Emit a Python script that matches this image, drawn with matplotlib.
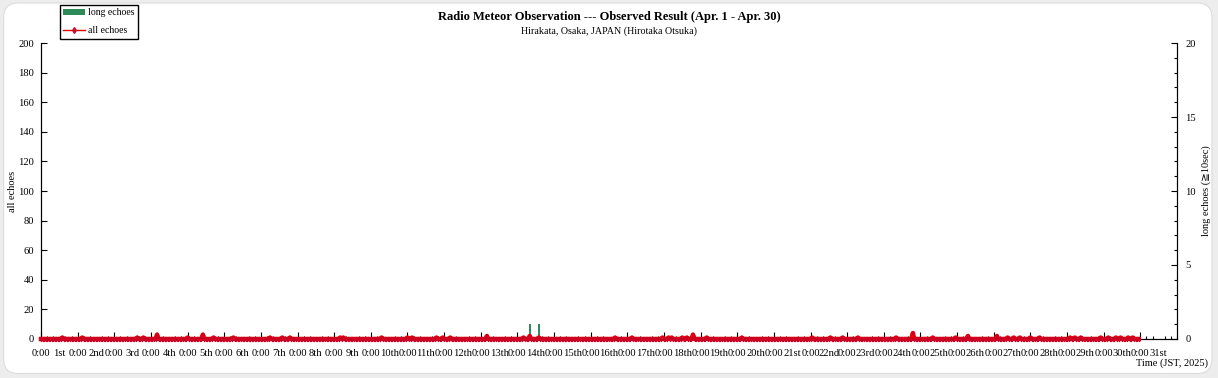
import numpy as np
import matplotlib.pyplot as plt
from matplotlib.patches import FancyBboxPatch
from matplotlib.lines import Line2D
from matplotlib.patches import Patch

plt.rcParams['font.family'] = ['Liberation Serif', 'DejaVu Serif', 'DejaVu Sans']

# hourly counts, Apr 1 0:00 .. Apr 30 23:00 (720 hours); only non-zero hours listed
n_hours = 720
all_hours = [14, 27, 63, 67, 76, 96, 106, 113, 126, 150, 158, 163, 196, 198,
             223, 240, 243, 259, 263, 268, 292, 316, 320, 326, 376, 387, 407,
             411, 413, 420, 423, 427, 436, 459, 505, 517, 525, 535, 560, 571,
             584, 599, 607, 626, 633, 637, 641, 648, 654, 674, 677, 681, 694,
             699, 704, 707, 712, 715]
all_counts = [1, 1, 1, 1, 3, 1, 3, 1, 1, 1, 1, 1, 1, 1,
              1, 1, 1, 1, 1, 1, 2, 1, 2, 1, 1, 1, 1,
              1, 1, 1, 1, 3, 1, 1, 1, 1, 1, 1, 1, 4,
              1, 1, 2, 2, 1, 1, 1, 1, 1, 1, 1, 1, 1,
              1, 1, 1, 1, 1]
long_hours = [320, 326]
long_counts = [1, 1]

days = ['1st', '2nd', '3rd'] + ['%dth' % d for d in range(4, 21)] + \
       ['21st', '22nd', '23rd'] + ['%dth' % d for d in range(24, 31)] + ['31st']

all_echoes = np.zeros(n_hours)
all_echoes[all_hours] = all_counts
hours = np.arange(n_hours)

fig = plt.figure(figsize=(12.18, 3.78), dpi=100, facecolor='#ededed')
card = FancyBboxPatch((0.003, 0.012), 0.992, 0.98, boxstyle='round,pad=0,rounding_size=0.012',
                      transform=fig.transFigure, facecolor='white', edgecolor='#dddddd',
                      lw=0.8, mutation_aspect=3.2, zorder=-10)
fig.patches.append(card)

ax = fig.add_axes([41 / 1218, 1 - 339 / 378, 1136 / 1218, 296 / 378])
ax2 = ax.twinx()

ax2.bar(long_hours, long_counts, width=1.3, color='#2e8b57', zorder=1)
ax.plot(hours, all_echoes, color='#f00000', lw=3.2, marker='d', ms=2.5,
        mfc='#e0001a', mec='#c0002a', mew=0.5, zorder=3, clip_on=False)
ax.set_zorder(ax2.get_zorder() + 1)
ax.patch.set_visible(False)
ax2.patch.set_visible(False)

ax.set_xlim(0, 744)
ax.set_ylim(0, 200)
ax2.set_ylim(0, 20)

# labels alternate: "0:00" at each midnight, day name at noon (no tick line there)
pos = []
labs = []
for i, d in enumerate(days):
    if i * 24 <= 720:
        pos.append(i * 24)
        labs.append('0:00')
    pos.append(i * 24 + 12)
    labs.append(d)
ax.set_xticks(pos)
ax.set_xticklabels(labs)
for t, lab in zip(ax.xaxis.get_major_ticks(), labs):
    if lab != '0:00':
        t.tick1line.set_visible(False)
ax.set_xticks(np.arange(0, 745, 4), minor=True)
ax.set_yticks(np.arange(0, 201, 20))
ax2.set_yticks(np.arange(0, 21, 5))
ax2.set_yticks(np.arange(0, 21, 1), minor=True)

for a in (ax, ax2):
    a.spines['top'].set_visible(False)
    a.tick_params(direction='in', labelsize=7.6, width=0.8, colors='black')
    a.tick_params(which='minor', direction='in', length=2.5, width=0.8)
ax.tick_params(axis='x', length=5, pad=7)
ax.tick_params(axis='y', length=4, pad=5)
ax2.tick_params(axis='y', length=4, pad=6)

ax.set_ylabel('all echoes', fontsize=7.5, labelpad=0.5)
ax2.set_ylabel('long echoes (≧10sec)', fontsize=7.5, labelpad=4)

fig.text(0.5, 0.955, 'Radio Meteor Observation --- Observed Result (Apr. 1 - Apr. 30)',
         ha='center', va='center', fontsize=9, fontweight='bold')
fig.text(0.5, 0.918, 'Hirakata, Osaka, JAPAN (Hirotaka Otsuka)',
         ha='center', va='center', fontsize=7.2)
fig.text(1208 / 1218, 1 - 363 / 378, 'Time (JST, 2025)', ha='right', va='center',
         fontsize=7.5)

handles = [Patch(facecolor='#2e8b57', edgecolor='none'),
           Line2D([], [], color='#e60000', lw=1, marker='d', ms=3, mfc='#c8102e', mec='#c8102e')]
fig.legend(handles, ['long echoes', 'all echoes'], loc='upper left',
           bbox_to_anchor=(60 / 1218, 1 - 5 / 378), fontsize=7, frameon=True,
           fancybox=False, edgecolor='black', framealpha=1, borderpad=0.35,
           handlelength=2.2, handletextpad=0.3, labelspacing=0.9, borderaxespad=0)

fig.savefig('out.png', dpi=100, facecolor=fig.get_facecolor())
